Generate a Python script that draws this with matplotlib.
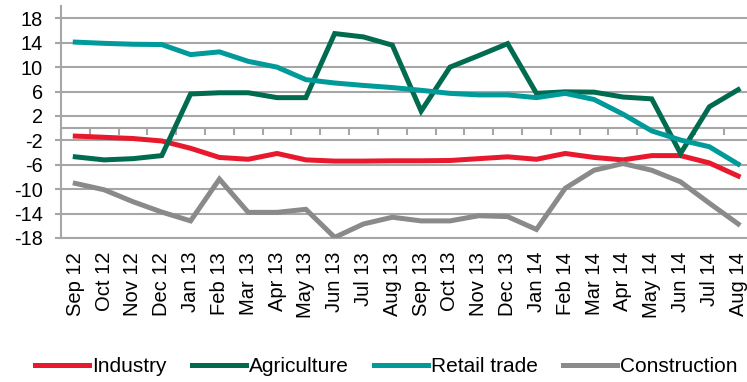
import matplotlib
matplotlib.use("Agg")
import matplotlib.pyplot as plt
import numpy as np

# Monthly balances, Sep 2012 - Aug 2014
months = ["Sep 12", "Oct 12", "Nov 12", "Dec 12", "Jan 13", "Feb 13", "Mar 13", "Apr 13",
          "May 13", "Jun 13", "Jul 13", "Aug 13", "Sep 13", "Oct 13", "Nov 13", "Dec 13",
          "Jan 14", "Feb 14", "Mar 14", "Apr 14", "May 14", "Jun 14", "Jul 14", "Aug 14"]

industry = [-1.3, -1.5, -1.7, -2.1, -3.3, -4.8, -5.1, -4.15, -5.2, -5.4, -5.4, -5.35,
            -5.35, -5.3, -5.0, -4.7, -5.1, -4.15, -4.8, -5.2, -4.5, -4.5, -5.7, -7.85]
agriculture = [-4.7, -5.2, -5.0, -4.5, 5.6, 5.8, 5.8, 5.0, 5.0, 15.5, 14.95, 13.6,
               2.8, 10.0, 11.9, 13.85, 5.7, 5.95, 5.9, 5.1, 4.8, -4.15, 3.5, 6.3]
retail = [14.1, 13.9, 13.75, 13.7, 12.05, 12.5, 10.95, 10.0, 7.95, 7.4, 7.0, 6.65,
          6.2, 5.7, 5.45, 5.45, 5.0, 5.7, 4.7, 2.3, -0.45, -1.95, -3.05, -5.9]
construction = [-9.05, -10.1, -12.05, -13.75, -15.2, -8.35, -13.8, -13.8, -13.3, -17.9,
                -15.7, -14.6, -15.2, -15.2, -14.35, -14.5, -16.6, -9.85, -6.9, -5.8,
                -6.9, -8.8, -12.3, -15.7]

y_ticks = list(range(-18, 19, 4))

series = [
    ("Industry", industry, "#e8192c"),
    ("Agriculture", agriculture, "#006b4f"),
    ("Retail trade", retail, "#009a9a"),
    ("Construction", construction, "#8a8a8a"),
]

plt.rcParams["font.family"] = ["Liberation Sans", "DejaVu Sans"]
grid_col = "#a6a6a6"

fig = plt.figure(figsize=(7.47, 3.82), dpi=100)
ax = fig.add_axes([0.0815, 0.377, 0.926, 0.607])

x = np.arange(len(months))
for name, vals, col in series:
    ax.plot(x, vals, color=col, lw=3.6, label=name, solid_joinstyle="miter", zorder=3)

ax.set_xlim(-0.5, len(months) - 0.5)
ax.set_ylim(-18, 20)
ax.set_yticks(y_ticks)
ax.set_yticklabels([str(t) for t in y_ticks], fontsize=14.3)
ax.yaxis.grid(True, color=grid_col, lw=1.5)
ax.set_axisbelow(True)
ax.tick_params(axis="y", length=4, width=1.5, color=grid_col, pad=9)

ax.set_xticks(x)
ax.set_xticklabels(months, rotation=90, fontsize=14.5)
ax.tick_params(axis="x", length=0, pad=10)

for side in ("top", "right"):
    ax.spines[side].set_visible(False)
ax.spines["left"].set_color(grid_col)
ax.spines["left"].set_linewidth(1.5)
ax.spines["bottom"].set_color(grid_col)
ax.spines["bottom"].set_linewidth(1.5)

# category axis crossing at zero, with tick marks between months
zero_frac = (0 - ax.get_ylim()[0]) / (ax.get_ylim()[1] - ax.get_ylim()[0])
zax = ax.secondary_xaxis(zero_frac)
zax.set_xticks(np.arange(len(months) + 1) - 0.5)
zax.set_xticklabels([])
zax.tick_params(direction="out", length=5, width=1.5, color=grid_col)
zax.spines["bottom"].set_color(grid_col)
zax.spines["bottom"].set_linewidth(1.5)

fig.legend(loc="center", bbox_to_anchor=(0.517, 0.04), ncol=4, frameon=False,
           handlelength=2.6, handletextpad=0.15, columnspacing=1.2,
           prop={"size": 15})

fig.savefig("out.png", dpi=100)
